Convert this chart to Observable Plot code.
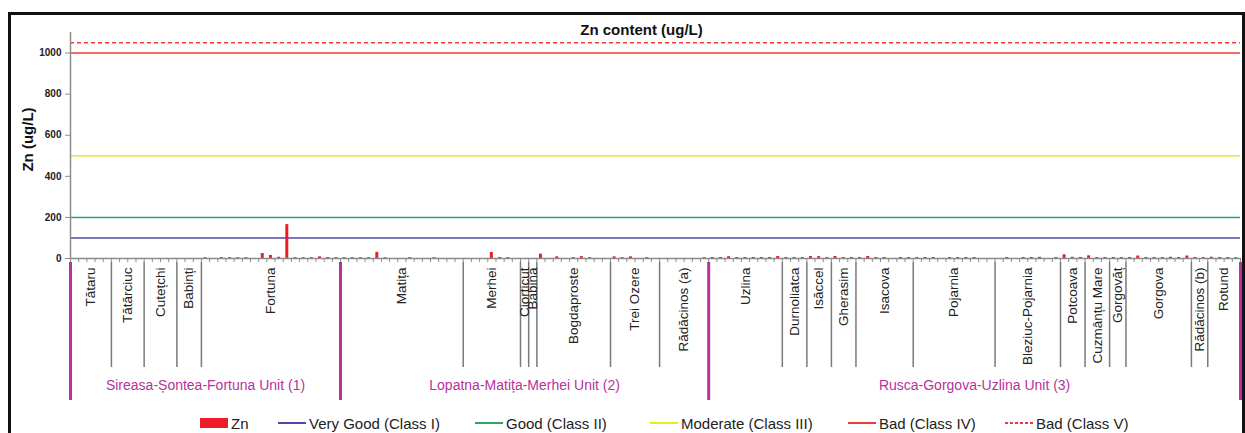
<!DOCTYPE html>
<html>
<head>
<meta charset="utf-8">
<script src="https://cdn.jsdelivr.net/npm/d3@7"></script>
<script src="https://cdn.jsdelivr.net/npm/@observablehq/plot@0.6"></script>
<style>
  body { margin: 0; background: #fff; font-family: "Liberation Sans", Arial, sans-serif; }
  #wrap { position: relative; width: 1245px; height: 433px; overflow: hidden; background: #fff; }
  #frame { position: absolute; left: 8px; top: 12px; width: 1237px; height: 460px; border: 3px solid #111; box-sizing: border-box; pointer-events: none; }
  #top { position: absolute; left: 0; top: 0; }
  #bottom { position: absolute; left: 0; top: 262px; }
  #legend { position: absolute; left: 0; top: 413px; width: 1245px; height: 20px; }
  .li { position: absolute; top: 0; height: 20px; display: flex; align-items: center; font-size: 15px; color: #222; white-space: nowrap; }
  .li svg { margin-right: 3px; }
</style>
</head>
<body>
<div id="wrap">
  <div id="top"></div>
  <div id="bottom"></div>
  <div id="legend"></div>
  <div id="frame"></div>
</div>
<script>
// ---------- data ----------
const chartTitle = "Zn content (ug/L)";
const yLabel = "Zn (ug/L)";
const seriesName = "Zn";

const units = ["Sireasa-Șontea-Fortuna Unit (1)", "Lopatna-Matița-Merhei Unit (2)", "Rusca-Gorgova-Uzlina Unit (3)"];
const unitSiteCounts = [5, 7, 13];

const sites = ["Tătaru", "Tătărciuc", "Cutețchi", "Babinți", "Fortuna",
  "Matița", "Merhei", "Ciorticut", "Babina", "Bogdaproste", "Trei Ozere", "Rădăcinos (a)",
  "Uzlina", "Durnoliatca", "Isăccel", "Gherasim", "Isacova", "Pojarnia", "Bleziuc-Pojarnia",
  "Potcoava", "Cuzmânțu Mare", "Gorgovăț", "Gorgova", "Rădăcinos (b)", "Rotund"];
const siteSampleCounts = [5, 4, 4, 3, 17,
  15, 7, 1, 1, 9, 6, 6,
  9, 3, 3, 3, 7, 10, 8, 3, 3, 2, 8, 2, 4];

const znUnit1 = [0, 0, 0, 0, 0, 0, 0, 0, 0, 0, 0, 0, 0, 0, 0, 0,
  4, 0, 4, 4, 4, 4, 0, 24, 15, 6, 165, 4, 4, 4, 8, 5, 4];
const znUnit2 = [4, 4, 4, 4, 30, 4, 0, 0, 4, 0, 0, 4, 0, 0, 0,
  0, 0, 0, 29, 5, 4, 0,
  0,
  0,
  21, 0, 8, 0, 4, 9, 4, 0, 0,
  8, 4, 8, 0, 4, 0,
  0, 0, 0, 0, 0, 4];
const znUnit3 = [5, 5, 9, 5, 5, 5, 5, 5, 10,
  5, 5, 5,
  10, 9, 5,
  10, 5, 5,
  5, 10, 5, 5, 0, 5, 5,
  5, 5, 5, 0, 5, 5, 5, 5, 0, 0,
  0, 5, 0, 5, 5, 6, 0, 5,
  18, 6, 5,
  13, 5, 5,
  5, 5,
  5, 12, 5, 5, 5, 6, 5, 12,
  5, 5,
  6, 5, 5, 4];

const yTicks = [0, 200, 400, 600, 800, 1000];
const classNames = ["Very Good (Class I)", "Good (Class II)", "Moderate (Class III)", "Bad (Class IV)", "Bad (Class V)"];
const classLimits = [100, 200, 500, 1000, 1050];

// ---------- derived ----------
const zn = [...znUnit1, ...znUnit2, ...znUnit3];
const N = zn.length;
const samples = zn.map((v, i) => ({i, v}));

let acc = 0;
const siteSpans = sites.map((name, k) => { const start = acc; acc += siteSampleCounts[k]; return {name, start, end: acc}; });
let sAcc = 0;
const unitSpans = units.map((name, k) => {
  const first = sAcc; sAcc += unitSiteCounts[k];
  return {name, start: siteSpans[first].start, end: siteSpans[sAcc - 1].end};
});
const unitBounds = [0, ...unitSpans.map(d => d.end)];
const siteBounds = siteSpans.map(d => d.start).filter(b => !unitBounds.includes(b));

const styles = {
  classColors: ["#4b4ba6", "#2fa366", "#ecec1a", "#f23a3a", "#f23a3a"],
  bar: "#ee1c25", axis: "#8c8c8c", magenta: "#b8329a", text: "#222"
};
const font = "'Liberation Sans', Arial, sans-serif";

const topPlot = Plot.plot({
  width: 1245, height: 262,
  marginTop: 32, marginBottom: 4, marginLeft: 70, marginRight: 5,
  x: {domain: [0, N], axis: null},
  y: {domain: [0, 1100], axis: null},
  style: {fontFamily: font, background: "transparent", overflow: "visible"},
  marks: [
    ...classLimits.map((lim, k) => Plot.ruleY([lim], {
      stroke: styles.classColors[k], strokeWidth: 1.5,
      strokeDasharray: k === 4 ? "4,3" : null
    })),
    Plot.rectY(samples, {x1: d => d.i, x2: d => d.i + 1, y: "v", fill: styles.bar, insetLeft: 2.6, insetRight: 2.6}),
    Plot.ruleY([0], {stroke: styles.axis, strokeWidth: 1.5}),
    Plot.ruleX([0], {stroke: styles.axis, strokeWidth: 1.5}),
    Plot.axisX(d3.range(0, N + 1), {tickSize: 4, tickFormat: () => "", stroke: styles.axis, label: null}),
    Plot.axisY(yTicks, {tickSize: 5, tickPadding: 4, tickFormat: d3.format("d"), fontWeight: "bold", fontSize: 10, fill: styles.text, stroke: styles.axis, label: null}),
    Plot.text([yLabel], {text: d => d, frameAnchor: "left", rotate: -90, textAnchor: "middle", lineAnchor: "middle", dx: -42, dy: -6, fontWeight: "bold", fontSize: 15, fill: "#111"}),
    Plot.text([chartTitle], {text: d => d, frameAnchor: "top", textAnchor: "middle", lineAnchor: "middle", dx: -14, dy: -2, fontWeight: "bold", fontSize: 15, fill: "#111"})
  ]
});
document.getElementById("top").appendChild(topPlot);

const bottomPlot = Plot.plot({
  width: 1245, height: 171,
  marginTop: 0, marginBottom: 0, marginLeft: 70, marginRight: 5,
  x: {domain: [0, N], axis: null},
  style: {fontFamily: font, background: "transparent", overflow: "visible"},
  marks: [
    Plot.ruleX(siteBounds, {stroke: "#7a7a7a", strokeWidth: 1.5, insetBottom: 66}),
    Plot.ruleX(unitBounds, {stroke: styles.magenta, strokeWidth: 3, insetBottom: 33}),
    Plot.text(siteSpans, {x: d => (d.start + d.end) / 2, text: "name", frameAnchor: "top", rotate: -90, textAnchor: "end", lineAnchor: "middle", dy: 5, fontSize: 13.5, fill: styles.text}),
    Plot.text(unitSpans, {x: d => (d.start + d.end) / 2, text: "name", frameAnchor: "top", textAnchor: "middle", lineAnchor: "middle", dy: 123, fontSize: 14, fill: styles.magenta})
  ]
});
document.getElementById("bottom").appendChild(bottomPlot);

// ---------- legend ----------
const legendLayout = [200, 278, 475, 650, 848, 1005];
const legend = document.getElementById("legend");
const legendEntries = [{label: seriesName, kind: "rect", color: styles.bar}]
  .concat(classNames.map((c, k) => ({label: c, kind: k === 4 ? "dash" : "line", color: styles.classColors[k]})));
legendEntries.forEach((e, k) => {
  const div = document.createElement("div");
  div.className = "li";
  div.style.left = legendLayout[k] + "px";
  let sw;
  if (e.kind === "rect") sw = `<svg width="28" height="12"><rect x="0" y="1" width="28" height="10" fill="${e.color}"/></svg>`;
  else sw = `<svg width="28" height="12"><line x1="0" x2="28" y1="6" y2="6" stroke="${e.color}" stroke-width="2" ${e.kind === "dash" ? 'stroke-dasharray="3,2"' : ""}/></svg>`;
  div.innerHTML = sw + `<span>${e.label}</span>`;
  legend.appendChild(div);
});
</script>
</body>
</html>
